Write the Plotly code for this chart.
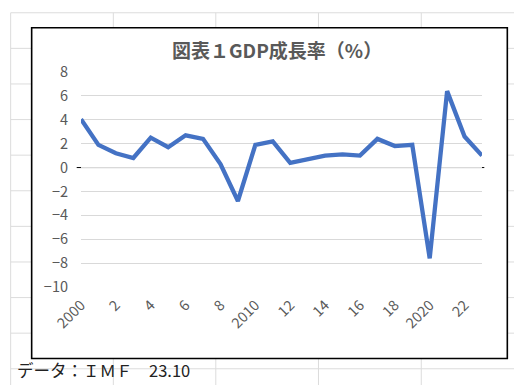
import plotly.graph_objects as go

years = list(range(2000, 2024))
gdp_growth = [4.05, 1.9, 1.2, 0.8, 2.5, 1.7, 2.7, 2.4, 0.3, -2.8,
              1.9, 2.2, 0.4, 0.7, 1.0, 1.1, 1.0, 2.4, 1.8, 1.9,
              -7.6, 6.4, 2.6, 1.0]
tick_vals = list(range(2000, 2023, 2))
tick_text = ["2000", "2", "4", "6", "8", "2010", "12", "14", "16", "18", "2020", "22"]
title_text = "図表１GDP成長率（%）"
source_text = "データ：ＩＭＦ　23.10"

W, H = 514, 385
PL, PR, PT, PB = 81.0, 481.7, 71.7, 287.3
PW, PH = PR - PL, PB - PT


def px(x):
    return (x - PL) / PW


def py(y):
    return (PB - y) / PH


fig = go.Figure()
fig.add_trace(go.Scatter(
    x=years, y=gdp_growth, mode="lines",
    line=dict(color="#4472C4", width=4.3),
    hoverinfo="skip", showlegend=False,
))

shapes = []
sheet_col = "#dcdcdc"
# spreadsheet grid background
for k in range(11):
    yy = 12.3 + 35.7 * k
    shapes.append(dict(type="line", xref="paper", yref="paper",
                       x0=px(10.7), x1=px(W + 2), y0=py(yy), y1=py(yy),
                       line=dict(color=sheet_col, width=1), layer="below"))
for xx in [10.7, 113.3, 215.7, 318.3, 421.0]:
    shapes.append(dict(type="line", xref="paper", yref="paper",
                       x0=px(xx), x1=px(xx), y0=py(12.3), y1=py(H + 2),
                       line=dict(color=sheet_col, width=1), layer="below"))
# chart frame
shapes.append(dict(type="rect", xref="paper", yref="paper",
                   x0=px(31.7), x1=px(507.0), y0=py(27.3), y1=py(359.0),
                   fillcolor="white", line=dict(color="#000000", width=1.6),
                   layer="below"))
# category axis line at zero
shapes.append(dict(type="line", xref="paper", yref="y",
                   x0=px(76.7), x1=px(484.0), y0=0, y1=0,
                   line=dict(color="#000000", width=1), layer="between"))
fig.update_layout(shapes=shapes)

fig.add_annotation(text=title_text, xref="paper", yref="paper",
                   x=px(276.7), y=py(49.5), xanchor="center", yanchor="middle",
                   showarrow=False,
                   font=dict(family="Noto Sans CJK JP", size=19, color="#595959",
                             weight="bold"))
fig.add_annotation(text=source_text, xref="paper", yref="paper",
                   x=px(15.0), y=py(385.0), xanchor="left", yanchor="bottom",
                   showarrow=False,
                   font=dict(family="Noto Sans CJK JP", size=16.5, color="#222222"))

fig.update_xaxes(range=[2000, 2023], tickmode="array", tickvals=tick_vals,
                 ticktext=tick_text, tickangle=-45, showgrid=False,
                 zeroline=False, showline=False, ticks="",
                 ticklabelstandoff=6,
                 tickfont=dict(family="Noto Sans CJK JP", size=14.5, color="#595959"))
fig.update_yaxes(range=[-10, 8], dtick=2, tick0=0, showgrid=True,
                 gridcolor="#d9d9d9", gridwidth=1.3, zeroline=False,
                 showline=False, ticks="", ticklabelstandoff=12,
                 tickfont=dict(family="Noto Sans CJK JP", size=14.5, color="#595959"))

fig.update_layout(width=W, height=H,
                  margin=dict(l=PL, r=W - PR, t=PT, b=H - PB, pad=0),
                  paper_bgcolor="white", plot_bgcolor="rgba(0,0,0,0)",
                  font=dict(family="Noto Sans CJK JP"))

fig.write_html("out.html")
